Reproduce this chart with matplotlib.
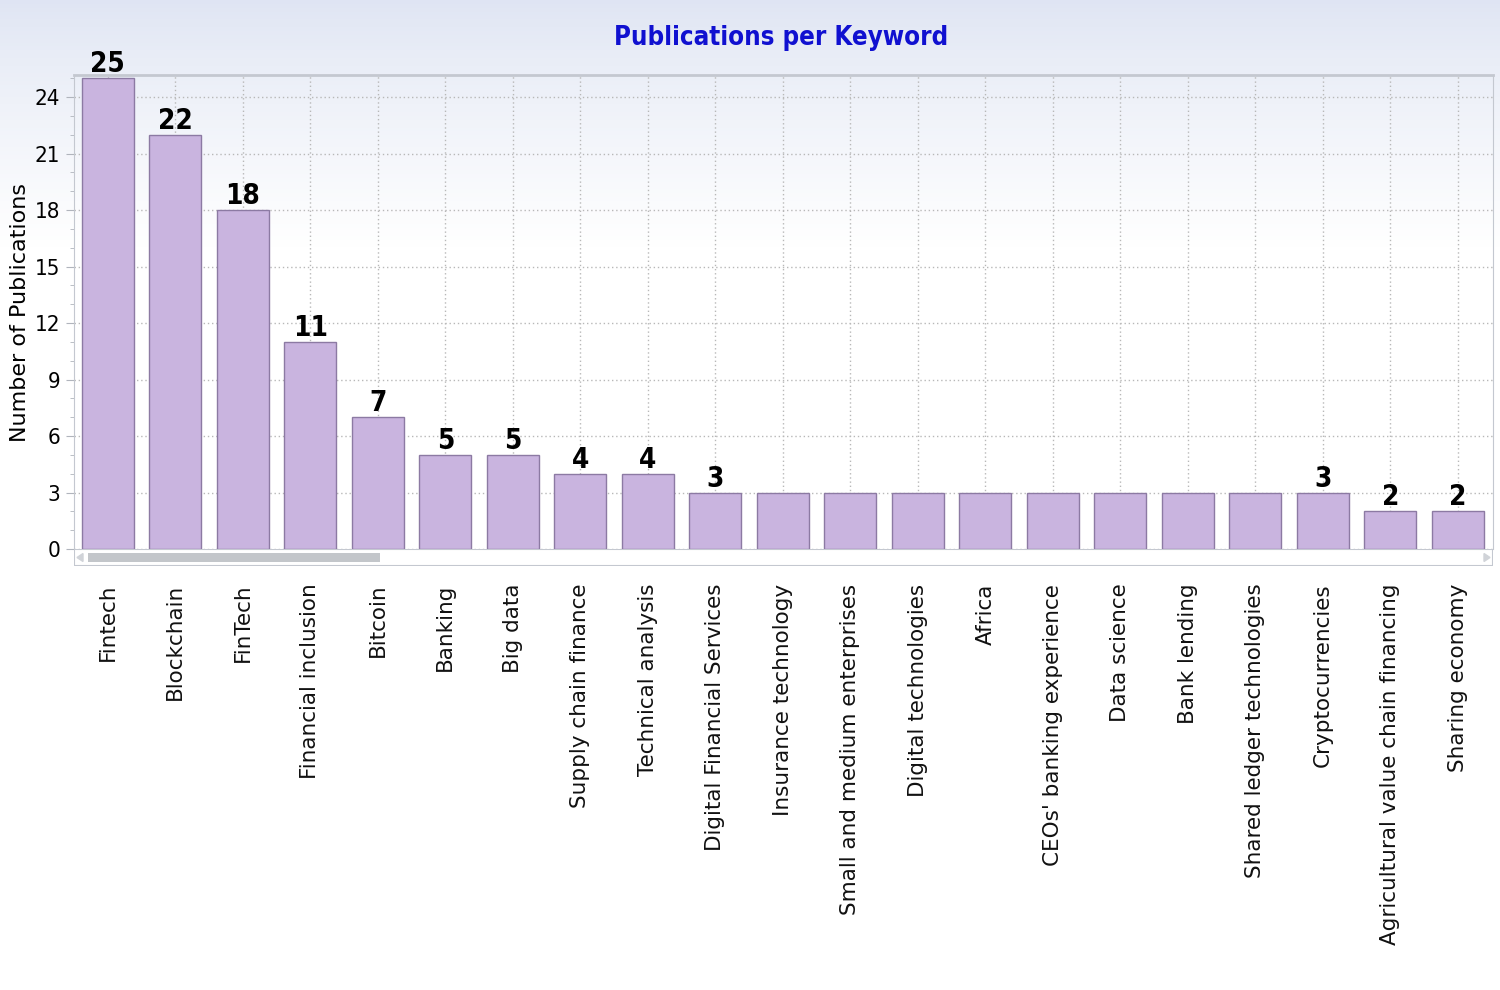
import numpy as np
import matplotlib
matplotlib.use("Agg")
import matplotlib.pyplot as plt
from matplotlib.patches import Rectangle
from matplotlib.ticker import MultipleLocator

# --- datos ---
keywords = ["Fintech", "Blockchain", "FinTech", "Financial inclusion", "Bitcoin",
            "Banking", "Big data", "Supply chain finance", "Technical analysis",
            "Digital Financial Services", "Insurance technology",
            "Small and medium enterprises", "Digital technologies", "Africa",
            "CEOs' banking experience", "Data science", "Bank lending",
            "Shared ledger technologies", "Cryptocurrencies",
            "Agricultural value chain financing", "Sharing economy"]
publications = [25, 22, 18, 11, 7, 5, 5, 4, 4, 3, 3, 3, 3, 3, 3, 3, 3, 3, 3, 2, 2]
# etiquetas de valor visibles en la figura original
label_visible = [True, True, True, True, True, True, True, True, True, True,
                 False, False, False, False, False, False, False, False,
                 True, True, True]
y_ticks = [0, 3, 6, 9, 12, 15, 18, 21, 24]

narrow = ["Liberation Sans Narrow", "DejaVu Sans"]
stretch = "condensed"

fig = plt.figure(figsize=(15, 9.9), dpi=100)

# fondo degradado
bg = fig.add_axes([0, 0, 1, 1], zorder=-10)
grad = np.linspace(0, 1, 256).reshape(-1, 1)
top = np.array([0.875, 0.898, 0.953])
white = np.array([1.0, 1.0, 1.0])
t = np.clip(grad / 0.25, 0, 1) ** 0.8
img = (top * (1 - t) + white * t).reshape(256, 1, 3)
bg.imshow(img, aspect="auto", extent=[0, 1, 0, 1], origin="upper")
bg.axis("off")

ax = fig.add_axes([74 / 1500, 1 - 549 / 990, 1419 / 1500, 474 / 990])
ax.patch.set_alpha(0)

x = np.arange(len(keywords))
bars = ax.bar(x, publications, width=0.77, color="#c9b4df", edgecolor="#8c7aa3",
              linewidth=1.0, zorder=3)

for i, (b, v) in enumerate(zip(bars, publications)):
    if label_visible[i]:
        ax.annotate(str(v), (b.get_x() + b.get_width() / 2, v),
                    xytext=(0, 0), textcoords="offset points",
                    ha="center", va="bottom", fontsize=20, fontweight="bold",
                    family=narrow, fontstretch=stretch, color="black", zorder=5)

ax.set_xlim(-0.5, 20.52)
ax.set_ylim(0, 25.17)
ax.set_yticks(y_ticks)
ax.yaxis.set_minor_locator(MultipleLocator(1))
ax.set_xticks(x)
ax.set_xticklabels(keywords, rotation=90, fontsize=15.5, color="#111111")
ax.tick_params(axis="x", length=0, pad=25)
ax.tick_params(axis="y", which="major", length=6, color="#b0b4bc",
               labelsize=16, pad=4)
ax.tick_params(axis="y", which="minor", length=3, color="#b0b4bc")
for lbl in ax.get_yticklabels():
    lbl.set_family(narrow)
    lbl.set_fontstretch(stretch)

ax.grid(True, linestyle=(0, (1, 2)), color="#b8b8b8", linewidth=1.0, zorder=0)
ax.set_axisbelow(True)
for s in ["left", "right", "top", "bottom"]:
    ax.spines[s].set_color("#c4c8d0")
ax.spines["top"].set_linewidth(2)
ax.spines["bottom"].set_visible(False)

ax.set_ylabel("Number of Publications", fontsize=16)
ax.yaxis.set_label_coords(-0.031, 0.5)

# barra de desplazamiento decorativa
sb = fig.add_axes([74 / 1500, 1 - 566 / 990, 1419 / 1500, 17 / 990])
sb.set_xlim(0, 1419)
sb.set_ylim(0, 17)
sb.add_patch(Rectangle((0, 0), 1419, 17, facecolor="white", edgecolor="#c4c8d0", lw=1.5))
sb.add_patch(Rectangle((14, 4), 292, 9, facecolor="#c3c6ca", edgecolor="none"))
sb.fill([1416, 1410, 1410], [8.5, 12.5, 4.5], color="#d0d3d8")
sb.fill([3, 9, 9], [8.5, 12.5, 4.5], color="#d0d3d8")
sb.axis("off")

fig.text(0.521, 0.962, "Publications per Keyword", ha="center", va="center",
         fontsize=18.5, fontweight="bold", color="#1010d0", family=narrow,
         fontstretch=stretch)

fig.savefig("out.png", dpi=100)
